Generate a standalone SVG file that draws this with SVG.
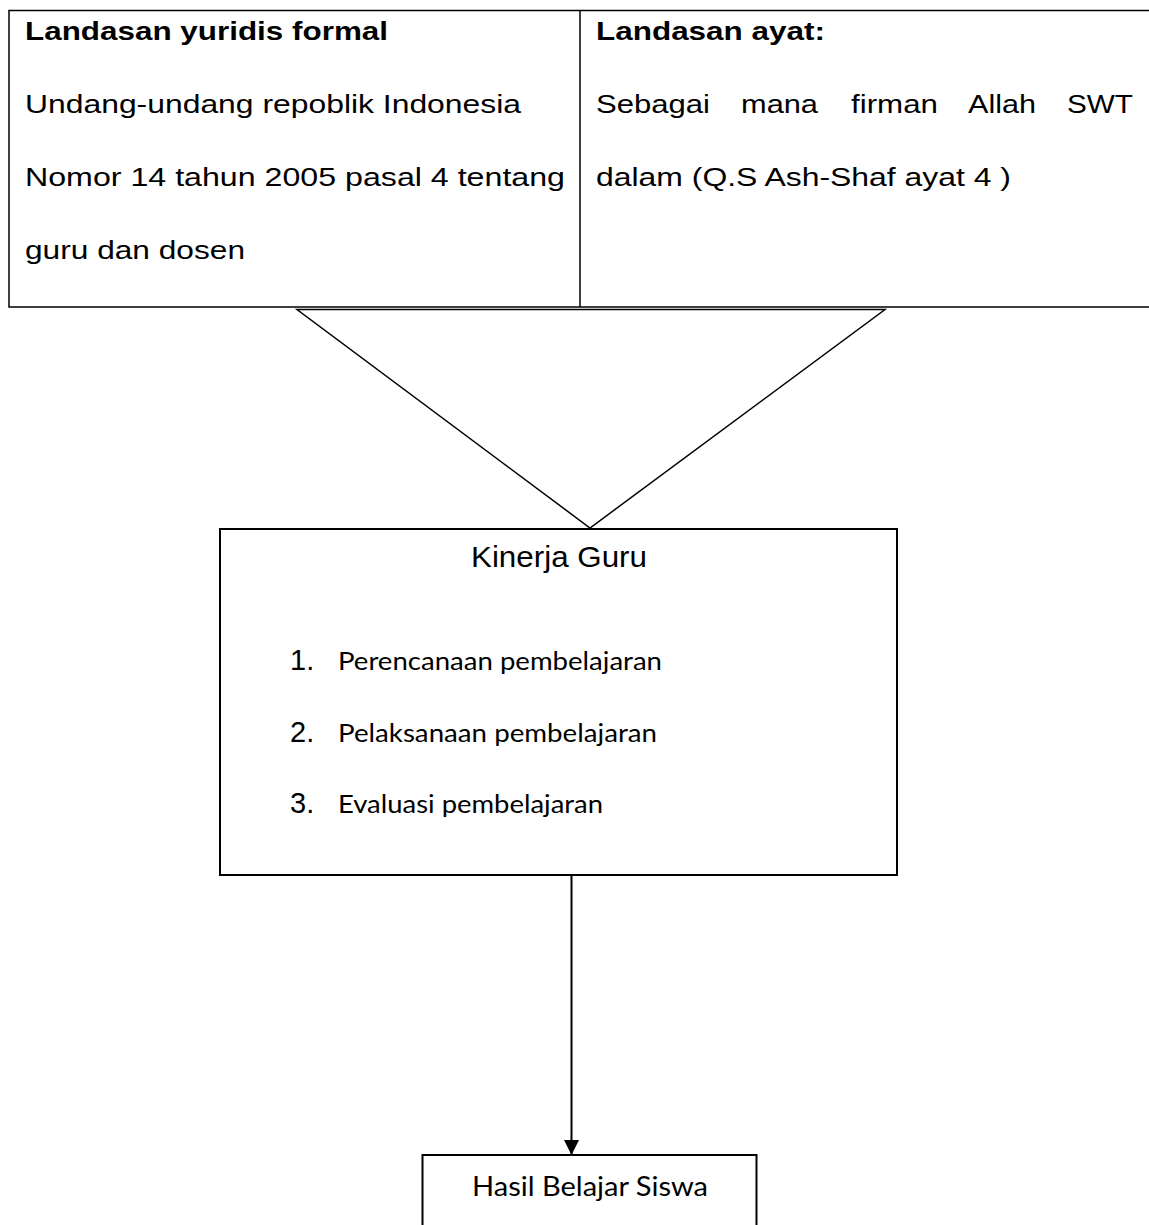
<svg xmlns="http://www.w3.org/2000/svg" width="1149" height="1225" viewBox="0 0 1149 1225">
  <defs>
    <style>
      .line { stroke: #000; fill: none; stroke-width: 1.5; }
      .conn { stroke: #000; fill: none; stroke-width: 2; }
      .box { stroke: #000; fill: #fff; stroke-width: 2; }
      .arial { font-family: "Liberation Sans", Arial, sans-serif; fill: #000; }
      .bold { font-weight: bold; }
      .t25 { font-size: 25px; }
      .t29 { font-size: 29px; }
      .cal { font-family: Lato, "Open Sans", sans-serif; fill: #000; font-size: 25px; }
      .cal26 { font-size: 26px; }
    </style>
    <marker id="arrow" markerWidth="15" markerHeight="15" refX="14" refY="7.5" orient="auto" markerUnits="userSpaceOnUse">
      <path d="M0,0 L15,7.5 L0,15 Z" fill="#000"/>
    </marker>
  </defs>
  <rect width="1149" height="1225" fill="#fff"/>

  <g id="table">
    <path class="line" d="M1149,10.5 H9 V307 H1149 M580,10.5 V307"/>
  </g>

  <g id="landasan-yuridis">
    <text class="arial bold t25" x="25" y="40" textLength="363" lengthAdjust="spacingAndGlyphs">Landasan yuridis formal</text>
    <text class="arial t25" x="25" y="113" textLength="496" lengthAdjust="spacingAndGlyphs">Undang-undang repoblik Indonesia</text>
    <text class="arial t25" x="25" y="186" textLength="540" lengthAdjust="spacingAndGlyphs">Nomor 14 tahun 2005 pasal 4 tentang</text>
    <text class="arial t25" x="25" y="259" textLength="220" lengthAdjust="spacingAndGlyphs">guru dan dosen</text>
  </g>

  <g id="landasan-ayat">
    <text class="arial bold t25" x="596" y="40" textLength="229" lengthAdjust="spacingAndGlyphs">Landasan ayat:</text>
    <text class="arial t25" y="113">
      <tspan x="596" textLength="114" lengthAdjust="spacingAndGlyphs">Sebagai</tspan>
      <tspan x="741" textLength="77" lengthAdjust="spacingAndGlyphs">mana</tspan>
      <tspan x="851" textLength="87" lengthAdjust="spacingAndGlyphs">firman</tspan>
      <tspan x="968" textLength="68" lengthAdjust="spacingAndGlyphs">Allah</tspan>
      <tspan x="1067" textLength="66" lengthAdjust="spacingAndGlyphs">SWT</tspan>
    </text>
    <text class="arial t25" x="596" y="186" textLength="415" lengthAdjust="spacingAndGlyphs">dalam (Q.S Ash-Shaf ayat 4 )</text>
  </g>

  <g id="connectors">
    <path class="line" d="M297,309.5 H885 L590,528 Z"/>
    <line class="conn" x1="571.5" y1="876" x2="571.5" y2="1154" marker-end="url(#arrow)"/>
  </g>

  <g id="kinerja-guru">
    <rect class="box" x="220" y="529" width="677" height="346"/>
    <text class="arial t29" x="471" y="567" textLength="176" lengthAdjust="spacingAndGlyphs">Kinerja Guru</text>
    <text class="arial t29" x="290" y="670">1.</text>
    <text class="cal" x="338" y="670" textLength="324" lengthAdjust="spacingAndGlyphs">Perencanaan pembelajaran</text>
    <text class="arial t29" x="290" y="742">2.</text>
    <text class="cal" x="338" y="742" textLength="319" lengthAdjust="spacingAndGlyphs">Pelaksanaan pembelajaran</text>
    <text class="arial t29" x="290" y="813">3.</text>
    <text class="cal" x="338" y="813" textLength="265" lengthAdjust="spacingAndGlyphs">Evaluasi pembelajaran</text>
  </g>

  <g id="hasil-belajar">
    <rect class="box" x="422.5" y="1155" width="334" height="100"/>
    <text class="cal cal26" x="472" y="1196" textLength="236" lengthAdjust="spacingAndGlyphs">Hasil Belajar Siswa</text>
  </g>
</svg>
